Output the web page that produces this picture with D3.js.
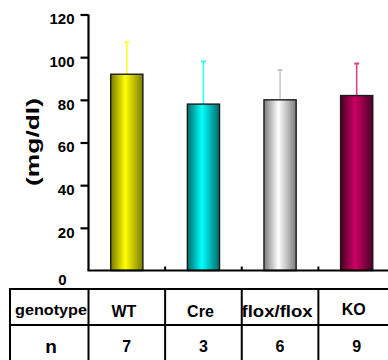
<!DOCTYPE html>
<html>
<head>
<meta charset="utf-8">
<script src="https://cdn.jsdelivr.net/npm/d3@7/dist/d3.min.js"></script>
<style>
  html, body { margin: 0; padding: 0; background: #fff; }
  svg { display: block; font-family: "Liberation Sans", Arial, sans-serif; }
</style>
</head>
<body>
<svg id="chart" width="388" height="360"></svg>
<script>
// Serum level per genotype (mean and SD), with group sizes for the table.
const genotypes = ["WT", "Cre", "flox/flox", "KO"];
const means = [92, 78, 80, 82];
const sds = [15, 20, 14, 15];
const counts = [7, 3, 6, 9];
const yTicks = [0, 20, 40, 60, 80, 100, 120];

// Bar shading: edge tone, centre tone, error bar tone.
const barDark = ["#7a7a00", "#006a6a", "#7c7c7c", "#4a0022"];
const barLight = ["#ffff00", "#00ffff", "#ffffff", "#cc0066"];
const errColor = ["#ffff33", "#33ffff", "#c8c8c8", "#e0408a"];

const svg = d3.select("#chart");

const x = d3.scaleBand().domain(genotypes).range([88.5, 395]).padding(0);
const y = d3.scaleLinear().domain([0, 120]).range([270.5, 14.5]);

// Horizontal gradients giving each bar its cylinder look.
const defs = svg.append("defs");
genotypes.forEach((g, i) => {
  const lg = defs.append("linearGradient")
    .attr("id", "grad" + i)
    .attr("x1", "0%").attr("x2", "100%").attr("y1", "0%").attr("y2", "0%");
  lg.append("stop").attr("offset", "0%").attr("stop-color", barDark[i]);
  lg.append("stop").attr("offset", "45%").attr("stop-color", barLight[i]);
  lg.append("stop").attr("offset", "100%").attr("stop-color", barDark[i]);
});

const barW = x.bandwidth() * 0.42;
const cx = g => x(g) + x.bandwidth() / 2;

// Error bars (upper half only), drawn under the bars.
const err = svg.append("g");
genotypes.forEach((g, i) => {
  err.append("line")
    .attr("x1", cx(g)).attr("x2", cx(g))
    .attr("y1", y(means[i])).attr("y2", y(means[i] + sds[i]))
    .attr("stroke", errColor[i]).attr("stroke-width", 1.6);
  err.append("line")
    .attr("x1", cx(g) - 2.5).attr("x2", cx(g) + 2.5)
    .attr("y1", y(means[i] + sds[i])).attr("y2", y(means[i] + sds[i]))
    .attr("stroke", errColor[i]).attr("stroke-width", 2);
});

// Bars
svg.append("g").selectAll("rect")
  .data(genotypes)
  .join("rect")
  .attr("x", g => cx(g) - barW / 2)
  .attr("y", (g, i) => y(means[i]))
  .attr("width", barW)
  .attr("height", (g, i) => y(0) - y(means[i]))
  .attr("fill", (g, i) => `url(#grad${i})`)
  .attr("stroke", "#1a1a1a")
  .attr("stroke-width", 1.4);

// Y axis
const yAxis = svg.append("g")
  .attr("transform", `translate(${x.range()[0]},0)`)
  .call(d3.axisLeft(y).tickValues(yTicks).tickSize(8).tickPadding(6).tickFormat(d3.format("d")));
yAxis.select(".domain").attr("stroke", "#000").attr("stroke-width", 2.2)
  .attr("d", `M0,${y(120)}V${y(0)}`);
yAxis.selectAll(".tick line").attr("stroke", "#000").attr("stroke-width", 2.2)
  .filter(d => d === 0).remove();
yAxis.selectAll(".tick text")
  .attr("font-family", "Liberation Sans, Arial, sans-serif")
  .attr("font-size", 15).attr("font-weight", "bold").attr("fill", "#000")
  .attr("dy", d => d === 0 ? "0.95em" : "0.62em")
  .attr("x", d => d === 0 ? -22 : -14);

// Baseline with small inward ticks between categories
svg.append("line")
  .attr("x1", x.range()[0] - 1).attr("x2", 388)
  .attr("y1", y(0)).attr("y2", y(0))
  .attr("stroke", "#000").attr("stroke-width", 2.2);
svg.append("g").selectAll("line")
  .data(genotypes.slice(1))
  .join("line")
  .attr("x1", g => x(g)).attr("x2", g => x(g))
  .attr("y1", y(0)).attr("y2", y(0) - 4)
  .attr("stroke", "#000").attr("stroke-width", 2);

// Y axis title
svg.append("text")
  .attr("transform", `translate(38.5,142) rotate(-90)`)
  .attr("text-anchor", "middle")
  .attr("font-size", 17.5).attr("font-weight", "bold")
  .attr("textLength", 88).attr("lengthAdjust", "spacingAndGlyphs")
  .text("(mg/dl)");

// Table of genotype and n beneath the chart
const tTop = 289, tMid = 325, tBot = 362, tLeft = 10;
const colEdges = [tLeft, 88.5].concat(genotypes.slice(1).map(g => x(g)));
const table = svg.append("g").attr("stroke", "#000").attr("stroke-width", 2);
[tTop, tMid, tBot].forEach(yy =>
  table.append("line").attr("x1", tLeft - 1).attr("x2", 390).attr("y1", yy).attr("y2", yy));
colEdges.forEach(xx =>
  table.append("line").attr("x1", xx).attr("x2", xx).attr("y1", tTop).attr("y2", tBot));

const labels = svg.append("g").attr("font-weight", "bold").attr("text-anchor", "middle");
labels.append("text")
  .attr("x", 51).attr("y", 315).attr("font-size", 15.5)
  .attr("textLength", 72).attr("lengthAdjust", "spacingAndGlyphs")
  .text("genotype");
labels.append("text")
  .attr("x", 51).attr("y", 353).attr("font-size", 19).text("n");
genotypes.forEach((g, i) => {
  const t = labels.append("text")
    .attr("x", cx(g) - 3).attr("y", g === "KO" ? 315 : 317)
    .attr("font-size", 16).text(g);
  if (g === "flox/flox") t.attr("textLength", 71).attr("lengthAdjust", "spacingAndGlyphs");
  labels.append("text")
    .attr("x", cx(g)).attr("y", 352).attr("font-size", 16).text(counts[i]);
});
</script>
</body>
</html>
